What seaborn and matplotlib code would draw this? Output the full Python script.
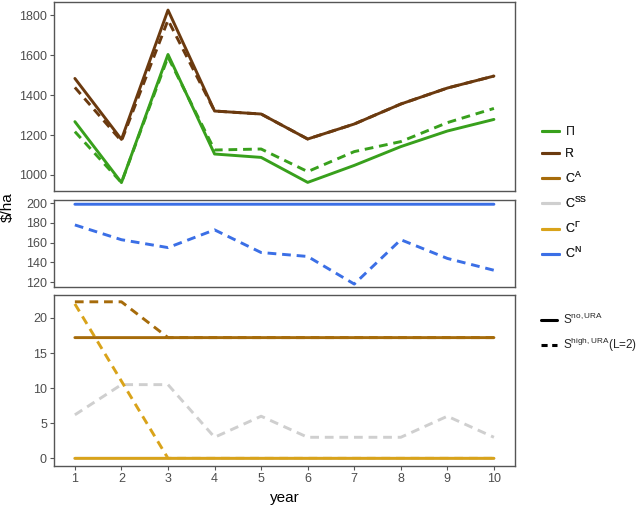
import numpy as np
import pandas as pd
import matplotlib
matplotlib.use("Agg")
import matplotlib.pyplot as plt
from matplotlib.lines import Line2D
import seaborn as sns

sns.set_theme(style="white")
plt.rcParams['font.family'] = ['Liberation Sans', 'DejaVu Sans']
plt.rcParams['mathtext.default'] = 'regular'

# 데이터
years = [1, 2, 3, 4, 5, 6, 7, 8, 9, 10]

pi_no = [1267, 962, 1603, 1105, 1088, 963, 1048, 1142, 1220, 1278]
pi_high = [1217, 962, 1590, 1125, 1130, 1017, 1117, 1167, 1262, 1333]
r_no = [1483, 1178, 1825, 1320, 1305, 1180, 1255, 1355, 1435, 1495]
r_high = [1438, 1170, 1775, 1320, 1305, 1180, 1255, 1355, 1435, 1495]

cn_no = [199, 199, 199, 199, 199, 199, 199, 199, 199, 199]
cn_high = [178, 163, 155, 173, 150, 146, 118, 163, 144, 132]

ca_no = [17.2, 17.2, 17.2, 17.2, 17.2, 17.2, 17.2, 17.2, 17.2, 17.2]
ca_high = [22.3, 22.3, 17.2, 17.2, 17.2, 17.2, 17.2, 17.2, 17.2, 17.2]
css_no = [0, 0, 0, 0, 0, 0, 0, 0, 0, 0]
css_high = [6.2, 10.5, 10.5, 3, 6, 3, 3, 3, 6, 3]
cg_no = [0, 0, 0, 0, 0, 0, 0, 0, 0, 0]
cg_high = [22, 11, 0, 0, 0, 0, 0, 0, 0, 0]

colors = {
    'Pi': '#38a01c',
    'R': '#6b3a0f',
    'CA': '#a66b0a',
    'CSS': '#cfcfcf',
    'CG': '#d9a31a',
    'CN': '#3b6fe6',
}
dashed = (0, (3, 2))

fig = plt.figure(figsize=(6.42, 5.19), dpi=100)
left, width = 0.084, 0.718
ax1 = fig.add_axes([left, 0.632, width, 0.364])
ax2 = fig.add_axes([left, 0.447, width, 0.168])
ax3 = fig.add_axes([left, 0.102, width, 0.330])

# (축, 값, 색, 점선 여부) - 점선을 아래, 실선을 위에
series = [
    (ax1, pi_high, 'Pi', True), (ax1, r_high, 'R', True),
    (ax1, pi_no, 'Pi', False), (ax1, r_no, 'R', False),
    (ax2, cn_high, 'CN', True), (ax2, cn_no, 'CN', False),
    (ax3, css_high, 'CSS', True), (ax3, css_no, 'CSS', False),
    (ax3, ca_high, 'CA', True), (ax3, cg_high, 'CG', True),
    (ax3, ca_no, 'CA', False), (ax3, cg_no, 'CG', False),
]
for ax, vals, key, is_dash in series:
    # snap=False: 수평 실선이 점선과 같은 위치에 그려지도록
    sns.lineplot(x=years, y=vals, color=colors[key], linewidth=2.1,
                 linestyle=dashed if is_dash else '-', snap=False,
                 zorder=2 if is_dash else 3, ax=ax)

for ax in [ax1, ax2, ax3]:
    ax.set_xlim(0.55, 10.45)
    ax.set_xlabel('')
    ax.set_ylabel('')
    for s in ax.spines.values():
        s.set_color('#555555')
        s.set_linewidth(1.0)
    ax.tick_params(axis='both', which='both', direction='out', length=3,
                   width=0.8, color='#555555', labelcolor='#4d4d4d',
                   labelsize=9, left=True, bottom=True, pad=2)

ax1.set_ylim(920, 1865)
ax1.set_yticks([1000, 1200, 1400, 1600, 1800])
ax1.set_xticks(years)
ax1.tick_params(axis='x', bottom=False, labelbottom=False)

ax2.set_ylim(115, 203.5)
ax2.set_yticks([120, 140, 160, 180, 200])
ax2.set_xticks(years)
ax2.tick_params(axis='x', bottom=False, labelbottom=False)

ax3.set_ylim(-1.1, 23.3)
ax3.set_yticks([0, 5, 10, 15, 20])
ax3.set_xticks(years)
ax3.set_xlabel('year', fontsize=11, color='black', labelpad=4)

fig.text(0.012, 0.60, '$/ha', rotation=90, ha='center', va='center',
         fontsize=11, color='black')

# 범례
var_handles = [
    Line2D([], [], color=colors['Pi'], lw=2.2, label='$\\Pi$'),
    Line2D([], [], color=colors['R'], lw=2.2, label='R'),
    Line2D([], [], color=colors['CA'], lw=2.2, label='C$^{A}$'),
    Line2D([], [], color=colors['CSS'], lw=2.2, label='C$^{SS}$'),
    Line2D([], [], color=colors['CG'], lw=2.2, label='C$^{\\Gamma}$'),
    Line2D([], [], color=colors['CN'], lw=2.2, label='C$^{N}$'),
]
leg1 = fig.legend(handles=var_handles, loc='upper left',
                  bbox_to_anchor=(0.826, 0.780), frameon=False, fontsize=9,
                  handlelength=1.4, handletextpad=0.5, labelspacing=0.8)
scen_handles = [
    Line2D([], [], color='black', lw=2.2, label='S$^{no,URA}$'),
    Line2D([], [], color='black', lw=2.2, ls=(0, (2, 1.5)),
           label='S$^{high,URA}$(L=2)'),
]
fig.legend(handles=scen_handles, loc='upper left',
           bbox_to_anchor=(0.826, 0.420), frameon=False, fontsize=8.5,
           handlelength=1.4, handletextpad=0.5, labelspacing=0.75)
fig.add_artist(leg1)

fig.savefig('out.png', dpi=100)
